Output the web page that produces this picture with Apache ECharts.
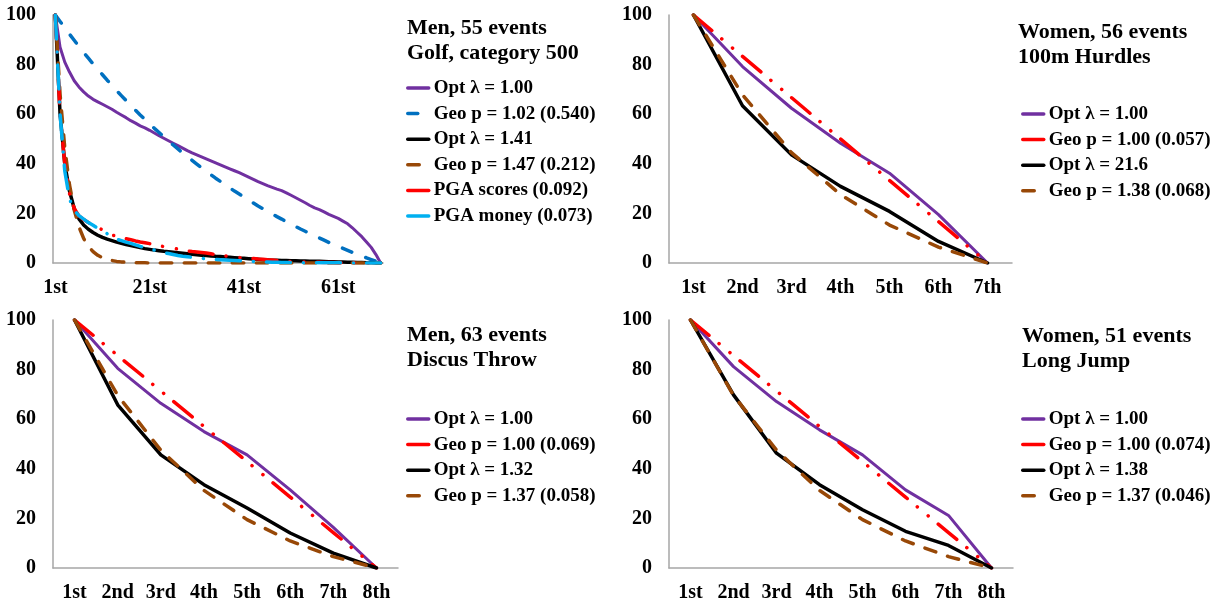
<!DOCTYPE html>
<html>
<head>
<meta charset="utf-8">
<script src="https://cdn.jsdelivr.net/npm/echarts@6/dist/echarts.min.js"></script>
<style>
  html, body { margin: 0; padding: 0; background: #fff; }
  #chart { width: 1220px; height: 605px; }
</style>
</head>
<body>
<div id="chart"></div>
<script>
// golf, top 70 places
const golfRanks = ['1st','2nd','3rd','4th','5th','6th','7th','8th','9th','10th',
  '11th','12th','13th','14th','15th','16th','17th','18th','19th','20th',
  '21st','22nd','23rd','24th','25th','26th','27th','28th','29th','30th',
  '31st','32nd','33rd','34th','35th','36th','37th','38th','39th','40th',
  '41st','42nd','43rd','44th','45th','46th','47th','48th','49th','50th',
  '51st','52nd','53rd','54th','55th','56th','57th','58th','59th','60th',
  '61st','62nd','63rd','64th','65th','66th','67th','68th','69th','70th'];
const golfOpt100 = [100, 87, 81, 77, 73.5, 71, 69, 67.3, 66, 65,
  64, 63, 62, 60.8, 59.7, 58.6, 57.4, 56.4, 55.3, 54.5,
  53.5, 52.4, 51.3, 50.3, 49.3, 48.3, 47.3, 46.3, 45.3, 44.4,
  43.6, 42.8, 42, 41.2, 40.4, 39.6, 38.8, 38, 37.2, 36.4,
  35.5, 34.6, 33.7, 32.8, 32, 31.2, 30.5, 29.8, 29.2, 28.3,
  27.3, 26.3, 25.3, 24.3, 23.2, 22.2, 21.5, 20.6, 19.6, 18.8,
  18, 16.9, 15.8, 14.2, 12.4, 10.6, 8.5, 6.3, 3.4, 0];
const golfGeo102 = [100, 97.4, 94.8, 92.3, 89.8, 87.3, 84.9, 82.6, 80.3, 78.1,
  75.9, 73.7, 71.6, 69.5, 67.5, 65.5, 63.5, 61.6, 59.7, 57.9,
  56.1, 54.3, 52.6, 50.9, 49.2, 47.6, 46.0, 44.4, 42.9, 41.4,
  39.9, 38.4, 37.0, 35.6, 34.2, 32.9, 31.6, 30.3, 29.0, 27.8,
  26.6, 25.4, 24.2, 23.0, 21.9, 20.8, 19.8, 18.7, 17.7, 16.6,
  15.6, 14.7, 13.7, 12.8, 11.8, 10.9, 10.1, 9.2, 8.3, 7.5,
  6.7, 5.9, 5.1, 4.3, 3.6, 2.8, 2.1, 1.4, 0.7, 0];
const golfOpt141 = [100, 60, 40, 29, 22, 17.8, 15.3, 13.6, 12.3, 11.2,
  10.3, 9.6, 9.0, 8.4, 7.9, 7.4, 7.0, 6.6, 6.2, 5.8,
  5.5, 5.2, 4.95, 4.7, 4.5, 4.3, 4.1, 3.9, 3.7, 3.5,
  3.3, 3.15, 3.0, 2.85, 2.7, 2.6, 2.45, 2.3, 2.15, 2.0,
  1.9, 1.75, 1.6, 1.5, 1.35, 1.25, 1.15, 1.1, 1.05, 1.0,
  0.95, 0.9, 0.85, 0.8, 0.75, 0.72, 0.68, 0.6, 0.52, 0.46,
  0.4, 0.36, 0.32, 0.28, 0.24, 0.2, 0.15, 0.1, 0.05, 0];
const golfGeo147 = [100, 68.0, 46.3, 31.5, 21.4, 14.6, 9.9, 6.7, 4.6, 3.1,
  2.1, 1.4, 1.0, 0.65, 0.45, 0.3, 0.2, 0.14, 0.1, 0.06,
  0.04, 0.03, 0.02, 0.01, 0, 0, 0, 0, 0, 0,
  0, 0, 0, 0, 0, 0, 0, 0, 0, 0,
  0, 0, 0, 0, 0, 0, 0, 0, 0, 0,
  0, 0, 0, 0, 0, 0, 0, 0, 0, 0,
  0, 0, 0, 0, 0, 0, 0, 0, 0, 0];
const golfPgaScores = [100, 60, 40, 28, 22, 19, 17.5, 16.3, 15.3, 14.5,
  13.3, 12.2, 11.3, 10.8, 10.3, 9.8, 9.4, 8.9, 8.5, 8.2,
  7.8, 7.4, 7.0, 6.6, 6.3, 6.0, 5.6, 5.3, 4.9, 4.6,
  4.4, 4.2, 4.0, 3.7, 3.4, 3.1, 2.9, 2.7, 2.5, 2.2,
  2.0, 1.9, 1.8, 1.6, 1.5, 1.3, 1.2, 1.0, 0.9, 0.7,
  0.6, 0.5, 0.45, 0.4, 0.35, 0.3, 0.3, 0.25, 0.2, 0.2,
  0.15, 0.15, 0.1, 0.1, 0.1, 0.1, 0.05, 0.05, 0.03, 0];
const golfPgaMoney = [100, 60.1, 37.1, 25.8, 21.3, 19.1, 17.7, 16.3, 15.2, 14.0,
  12.9, 11.8, 10.7, 9.6, 9.0, 8.4, 7.9, 7.3, 6.7, 6.2,
  5.6, 5.2, 4.7, 4.2, 3.8, 3.4, 3.0, 2.7, 2.5, 2.3,
  2.1, 1.9, 1.7, 1.5, 1.4, 1.3, 1.2, 1.1, 1.0, 0.9,
  0.8, 0.7, 0.6, 0.5, 0.45, 0.4, 0.35, 0.3, 0.25, 0.2,
  0.18, 0.16, 0.15, 0.14, 0.13, 0.12, 0.11, 0.1, 0.1, 0.09,
  0.08, 0.07, 0.06, 0.05, 0.04, 0.03, 0.02, 0.02, 0.01, 0];

// women 100m hurdles
const hurdlesRanks = ['1st', '2nd', '3rd', '4th', '5th', '6th', '7th'];
const hurdlesOpt100 = [100, 79.2, 62.4, 48.3, 36.2, 19.5, 0];
const hurdlesGeo100 = [100, 83.3, 66.7, 50, 33.3, 16.7, 0];
const hurdlesOpt216 = [100, 63.4, 43.6, 30.9, 20.8, 8.7, 0];
const hurdlesGeo138 = [100, 67.8, 44.5, 27.6, 15.3, 6.4, 0];

// men discus throw
const discusRanks = ['1st', '2nd', '3rd', '4th', '5th', '6th', '7th', '8th'];
const discusOpt100 = [100, 80.5, 66.4, 55.0, 45.6, 31.5, 16.4, 0];
const discusGeo100 = [100, 85.7, 71.4, 57.1, 42.9, 28.6, 14.3, 0];
const discusOpt132 = [100, 65.8, 45.6, 33.6, 24.2, 14.1, 6.0, 0];
const discusGeo137 = [100, 69.6, 47.5, 31.3, 19.5, 10.9, 4.6, 0];

// women long jump
const jumpRanks = ['1st', '2nd', '3rd', '4th', '5th', '6th', '7th', '8th'];
const jumpOpt100 = [100, 81.2, 67.1, 55.7, 45.6, 31.5, 21.2, 0];
const jumpGeo100 = [100, 85.7, 71.4, 57.1, 42.9, 28.6, 14.3, 0];
const jumpOpt138 = [100, 69.8, 46.3, 33.6, 23.5, 14.8, 9.1, 0];
const jumpGeo137 = [100, 69.6, 47.5, 31.3, 19.5, 10.9, 4.6, 0];

const yTicks = [0, 20, 40, 60, 80, 100];

const FONT = '"Liberation Serif", "Times New Roman", serif';
const PURPLE = '#7030A0', BLUE = '#0070C0', BLACK = '#000000',
      BROWN = '#984807', RED = '#FF0000', LIGHTBLUE = '#00B0F0';
const SOLID = 'solid', DASH = [10, 15], DASH_BROWN = [11.5, 12.5],
      DASH_DOT_DOT = [24, 13, 0.1, 14, 0.1, 13], DASH_DOT = [24, 13, 0.1, 13];

function line(name, data, idx, color, dash, width) {
  return {
    name: name,
    type: 'line',
    xAxisIndex: idx,
    yAxisIndex: idx,
    data: data,
    symbol: 'none',
    smooth: false,
    lineStyle: { color: color, width: width, type: dash, cap: 'round', join: 'round' },
    itemStyle: { color: color },
  };
}

function xAxis(idx, cats, every) {
  return {
    type: 'category',
    gridIndex: idx,
    data: cats,
    boundaryGap: true,
    axisLine: { lineStyle: { color: '#a6a6a6', width: 1.5 } },
    axisTick: { show: false },
    axisLabel: {
      interval: every,
      margin: 15,
      color: '#000',
      fontSize: 20,
      fontWeight: 'bold',
      fontFamily: FONT,
    },
    splitLine: { show: false },
  };
}

function yAxis(idx) {
  return {
    type: 'value',
    gridIndex: idx,
    min: yTicks[0],
    max: yTicks[yTicks.length - 1],
    interval: yTicks[1] - yTicks[0],
    axisLine: { show: true, lineStyle: { color: '#a6a6a6', width: 1.5 } },
    axisTick: { show: false },
    splitLine: { show: false },
    axisLabel: {
      margin: 17,
      color: '#000',
      fontSize: 20,
      fontWeight: 'bold',
      fontFamily: FONT,
    },
  };
}

function title(text, left, top) {
  return {
    text: text,
    left: left,
    top: top,
    padding: 0,
    textStyle: {
      fontSize: 22,
      fontWeight: 'bold',
      fontFamily: FONT,
      color: '#000',
      lineHeight: 25,
    },
  };
}

function legend(names, left, top) {
  return {
    data: names,
    orient: 'vertical',
    left: left,
    top: top,
    padding: 0,
    itemWidth: 21,
    itemHeight: 14,
    itemGap: 5.6,
    itemStyle: { opacity: 0 },
    lineStyle: { width: 3.5 },
    textStyle: {
      fontSize: 19,
      fontWeight: 'bold',
      fontFamily: FONT,
      color: '#000',
      lineHeight: 20,
    },
  };
}

let chartDom = document.getElementById('chart');
let myChart = echarts.init(chartDom);
let option = {
  animation: false,
  backgroundColor: '#fff',
  title: [
    title('Men, 55 events\nGolf, category 500', 407, 15.5),
    title('Women, 56 events\n100m Hurdles', 1018, 19.5),
    title('Men, 63 events\nDiscus Throw', 407, 323),
    title('Women, 51 events\nLong Jump', 1022, 324),
  ],
  legend: [
    legend(['Opt λ = 1.00', 'Geo p = 1.02 (0.540)', 'Opt λ = 1.41',
      'Geo p = 1.47 (0.212)', 'PGA scores (0.092)', 'PGA money (0.073)'], 406, 78),
    legend(['Opt λ = 1.00 ', 'Geo p = 1.00 (0.057)', 'Opt λ = 21.6',
      'Geo p = 1.38 (0.068)'], 1021, 104),
    legend(['Opt λ = 1.00  ', 'Geo p = 1.00 (0.069)', 'Opt λ = 1.32',
      'Geo p = 1.37 (0.058)'], 406, 409),
    legend(['Opt λ = 1.00   ', 'Geo p = 1.00 (0.074)', 'Opt λ = 1.38',
      'Geo p = 1.37 (0.046)'], 1021, 409),
  ],
  grid: [
    { left: 53, top: 15, width: 330, height: 248 },
    { left: 669, top: 15, width: 343, height: 248 },
    { left: 53, top: 320, width: 345, height: 248 },
    { left: 669, top: 320, width: 344, height: 248 },
  ],
  xAxis: [
    xAxis(0, golfRanks, 19),
    xAxis(1, hurdlesRanks, 0),
    xAxis(2, discusRanks, 0),
    xAxis(3, jumpRanks, 0),
  ],
  yAxis: [yAxis(0), yAxis(1), yAxis(2), yAxis(3)],
  series: [
    line('Opt λ = 1.00', golfOpt100, 0, PURPLE, SOLID, 3),
    line('Geo p = 1.02 (0.540)', golfGeo102, 0, BLUE, DASH, 3.5),
    line('Opt λ = 1.41', golfOpt141, 0, BLACK, SOLID, 3.5),
    line('Geo p = 1.47 (0.212)', golfGeo147, 0, BROWN, DASH_BROWN, 3.5),
    line('PGA scores (0.092)', golfPgaScores, 0, RED, DASH_DOT_DOT, 3.5),
    line('PGA money (0.073)', golfPgaMoney, 0, LIGHTBLUE, DASH_DOT, 3.5),

    line('Opt λ = 1.00 ', hurdlesOpt100, 1, PURPLE, SOLID, 3),
    line('Geo p = 1.00 (0.057)', hurdlesGeo100, 1, RED, DASH_DOT_DOT, 3.5),
    line('Opt λ = 21.6', hurdlesOpt216, 1, BLACK, SOLID, 3.5),
    line('Geo p = 1.38 (0.068)', hurdlesGeo138, 1, BROWN, DASH_BROWN, 3.5),

    line('Opt λ = 1.00  ', discusOpt100, 2, PURPLE, SOLID, 3),
    line('Geo p = 1.00 (0.069)', discusGeo100, 2, RED, DASH_DOT_DOT, 3.5),
    line('Opt λ = 1.32', discusOpt132, 2, BLACK, SOLID, 3.5),
    line('Geo p = 1.37 (0.058)', discusGeo137, 2, BROWN, DASH_BROWN, 3.5),

    line('Opt λ = 1.00   ', jumpOpt100, 3, PURPLE, SOLID, 3),
    line('Geo p = 1.00 (0.074)', jumpGeo100, 3, RED, DASH_DOT_DOT, 3.5),
    line('Opt λ = 1.38', jumpOpt138, 3, BLACK, SOLID, 3.5),
    line('Geo p = 1.37 (0.046)', jumpGeo137, 3, BROWN, DASH_BROWN, 3.5),
  ],
};

option && myChart.setOption(option);
</script>
</body>
</html>
